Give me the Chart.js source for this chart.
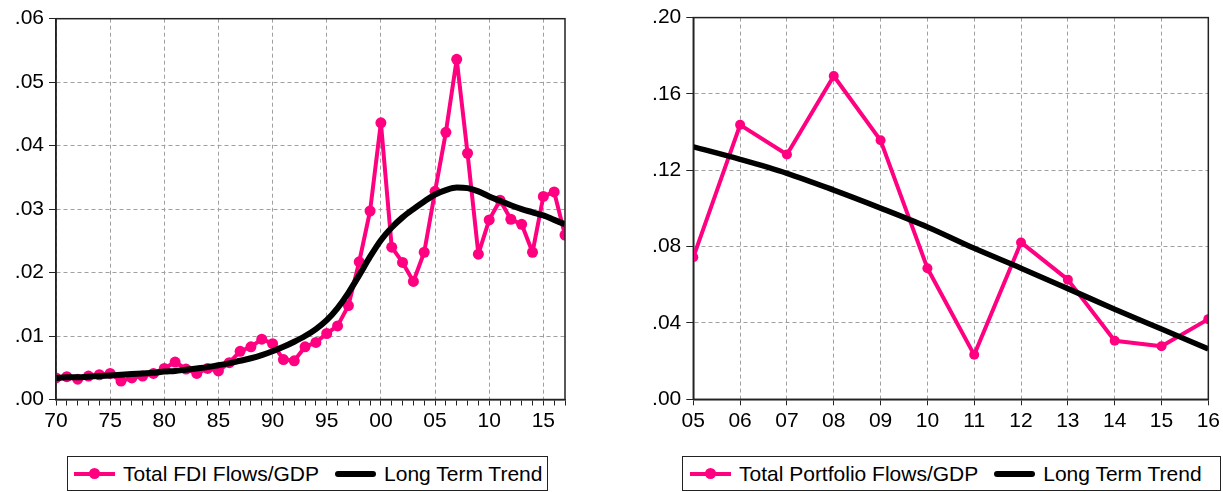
<!DOCTYPE html>
<html>
<head>
<meta charset="utf-8">
<script src="https://cdn.jsdelivr.net/npm/chart.js"></script>
<style>
  html, body { margin: 0; padding: 0; background: #fff; overflow: hidden; }
  body { width: 1223px; height: 492px; position: relative; font-family: "Liberation Sans", Arial, sans-serif; }
  .wrap { position: absolute; top: 0; }
  .legend {
    position: absolute; box-sizing: border-box; border: 1px solid #222;
    display: flex; align-items: center; font-size: 21px; color: #000; white-space: nowrap;
  }
  .sym { position: relative; display: inline-block; width: 41px; height: 12px; margin-right: 8px; }
  .sym .ln { position: absolute; left: 0; right: 0; top: 4px; height: 4px; background: #ff0080; }
  .sym .dot { position: absolute; left: 15px; top: 0; width: 11px; height: 11px; border-radius: 50%; background: #ff0080; }
  .sym.trend .ln { top: 3px; height: 6px; border-radius: 3px; background: #000; }
</style>
</head>
<body>
<div class="wrap" style="left:0;width:580px;height:450px"><canvas id="fdi"></canvas></div>
<div class="wrap" style="left:600px;width:623px;height:450px"><canvas id="port"></canvas></div>

<div class="legend" style="left:67px;top:456px;width:481px;height:35px;padding-left:6px">
  <span class="sym"><span class="ln"></span><span class="dot"></span></span>
  <span style="margin-right:16px">Total FDI Flows/GDP</span>
  <span class="sym trend"><span class="ln"></span></span>
  <span>Long Term Trend</span>
</div>
<div class="legend" style="left:682px;top:456px;width:539px;height:35px;padding-left:7px">
  <span class="sym"><span class="ln"></span><span class="dot"></span></span>
  <span style="margin-right:16px">Total Portfolio Flows/GDP</span>
  <span class="sym trend"><span class="ln"></span></span>
  <span>Long Term Trend</span>
</div>

<script>
// left panel: FDI flows, 1970-2017
const fdiYears = []
for (let y = 1970; y <= 2017; y++) fdiYears.push(y)
const fdiFlows = [
  .0034, .0036, .0032, .0037, .0039, .0041, .0029, .0034, .0037, .0041,
  .0049, .0059, .0048, .0041, .0049, .0045, .0058, .0076, .0083, .0095,
  .0088, .0063, .0061, .0083, .0090, .0104, .0116, .0148, .0217, .0297,
  .0436, .0240, .0216, .0186, .0232, .0328, .0421, .0536, .0388, .0229,
  .0283, .0314, .0284, .0276, .0232, .0320, .0327, .0259
]
const fdiTrend = [
  .0034, .0035, .0035, .0036, .0037, .0038, .0039, .0040, .0041, .0042,
  .0044, .0045, .0047, .0049, .0051, .0054, .0057, .0061, .0065, .0070,
  .0076, .0083, .0091, .0100, .0111, .0125, .0144, .0168, .0196, .0225,
  .0251, .0271, .0287, .0300, .0312, .0323, .0330, .0334, .0333, .0328,
  .0320, .0313, .0306, .0300, .0295, .0290, .0283, .0276
]

// right panel: portfolio flows, 2005-2016
const portYears = [2005, 2006, 2007, 2008, 2009, 2010, 2011, 2012, 2013, 2014, 2015, 2016]
const portFlows = [.0744, .1438, .1283, .1694, .1357, .0687, .0233, .0822, .0627, .0307, .0278, .0420]
const portTrend = [.1323, .1257, .1184, .1096, .1002, .0903, .0791, .0687, .0580, .0472, .0368, .0264]

const PINK = '#ff0080'
const GRID = '#a0a0a0'
const FONT = { family: '"Liberation Sans", Arial, sans-serif', size: 21 }

function pairs(xs, ys) {
  return xs.map(function (x, i) { return { x: x, y: ys[i] } })
}

// plot frame on all four sides
const framePlugin = {
  id: 'frame',
  afterDraw(chart) {
    const a = chart.chartArea
    const ctx = chart.ctx
    ctx.save()
    ctx.strokeStyle = '#222'
    ctx.lineWidth = 1.5
    ctx.strokeRect(a.left, a.top, a.right - a.left, a.bottom - a.top)
    ctx.restore()
  }
}

function makeChart(id, cfg) {
  return new Chart(document.getElementById(id), {
    type: 'line',
    data: {
      datasets: [
        {
          label: cfg.flowLabel,
          data: pairs(cfg.years, cfg.flows),
          borderColor: PINK,
          backgroundColor: PINK,
          borderWidth: 4,
          borderJoinStyle: 'round',
          borderCapStyle: 'round',
          pointRadius: cfg.pointRadius,
          pointBackgroundColor: PINK,
          pointBorderWidth: 0,
          tension: 0,
          clip: 0,
          order: 1
        },
        {
          label: 'Long Term Trend',
          data: pairs(cfg.years, cfg.trend),
          borderColor: '#000',
          borderWidth: cfg.trendWidth,
          borderJoinStyle: 'round',
          pointRadius: 0,
          cubicInterpolationMode: 'monotone',
          clip: 0,
          order: 0
        }
      ]
    },
    options: {
      responsive: true,
      maintainAspectRatio: false,
      animation: false,
      events: [],
      layout: { padding: { left: 0, right: cfg.padRight, top: cfg.padTop, bottom: 0 } },
      plugins: { legend: { display: false }, tooltip: { enabled: false } },
      scales: {
        x: {
          type: 'linear',
          min: cfg.years[0],
          max: cfg.years[cfg.years.length - 1],
          afterFit: function (s) { s.height = cfg.xHeight },
          ticks: {
            stepSize: 1,
            autoSkip: false,
            maxRotation: 0,
            padding: 3,
            color: '#000',
            font: FONT,
            callback: function (v) {
              const yr = Math.round(v)
              if (yr % cfg.labelEvery !== 0) return ''
              return String(yr % 100).padStart(2, '0')
            }
          },
          grid: {
            color: function (ctx) {
              if (!ctx.tick) return 'transparent'
              return Math.round(ctx.tick.value) % cfg.labelEvery === 0 ? GRID : 'transparent'
            },
            lineWidth: 1,
            tickColor: '#222',
            tickLength: 6,
            tickWidth: 1
          },
          border: { display: true, color: '#222', width: 1.5, dash: [4, 3] }
        },
        y: {
          min: 0,
          max: cfg.yMax,
          afterFit: function (s) { s.width = cfg.yWidth },
          ticks: {
            stepSize: cfg.yStep,
            padding: 5,
            color: '#000',
            font: FONT,
            callback: function (v) { return v.toFixed(2).replace(/^0/, '') }
          },
          grid: {
            color: GRID,
            lineWidth: 1,
            tickColor: '#222',
            tickLength: 7,
            tickWidth: 1
          },
          border: { display: true, color: '#222', width: 1.5, dash: [4, 3] }
        }
      }
    },
    plugins: [framePlugin]
  })
}

makeChart('fdi', {
  years: fdiYears, flows: fdiFlows, trend: fdiTrend,
  flowLabel: 'Total FDI Flows/GDP',
  pointRadius: 5.5, trendWidth: 6,
  labelEvery: 5, yMax: 0.06, yStep: 0.01,
  yWidth: 56, xHeight: 50.5, padTop: 18.7, padRight: 15
})

makeChart('port', {
  years: portYears, flows: portFlows, trend: portTrend,
  flowLabel: 'Total Portfolio Flows/GDP',
  pointRadius: 5, trendWidth: 5.5,
  labelEvery: 1, yMax: 0.20, yStep: 0.04,
  yWidth: 93.3, xHeight: 50.7, padTop: 13.3, padRight: 13
})
</script>
</body>
</html>
